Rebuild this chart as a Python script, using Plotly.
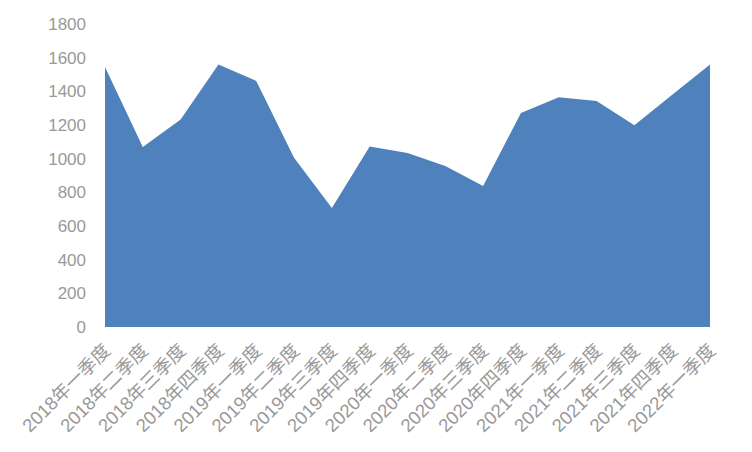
import plotly.graph_objects as go

categories = [
    "2018年一季度", "2018年二季度", "2018年三季度", "2018年四季度",
    "2019年一季度", "2019年二季度", "2019年三季度", "2019年四季度",
    "2020年一季度", "2020年二季度", "2020年三季度", "2020年四季度",
    "2021年一季度", "2021年二季度", "2021年三季度", "2021年四季度",
    "2022年一季度",
]
values = [1545, 1070, 1232, 1560, 1462, 1005, 707, 1073,
          1034, 957, 838, 1272, 1365, 1342, 1199, 1380, 1560]
y_ticks = [0, 200, 400, 600, 800, 1000, 1200, 1400, 1600, 1800]

font_family = "Liberation Sans, Noto Sans CJK SC, sans-serif"
label_color = "#999999"

fig = go.Figure()
fig.add_trace(go.Scatter(
    x=categories, y=values, mode="none", fill="tozeroy",
    fillcolor="#4F81BD", hoverinfo="x+y",
))

fig.update_layout(
    width=744, height=444,
    margin=dict(l=97, r=42, t=16, b=125),
    paper_bgcolor="white", plot_bgcolor="white",
    showlegend=False,
    font=dict(family=font_family, size=17, color=label_color),
    xaxis=dict(
        type="category", range=[0, len(categories) - 1],
        tickangle=-45, showgrid=False, zeroline=False, showline=False,
        ticks="", ticklabelstandoff=8, automargin=False,
        tickfont=dict(size=18.5, color=label_color),
    ),
    yaxis=dict(
        range=[0, 1800], tickvals=y_ticks, showgrid=False,
        zeroline=False, showline=False, ticks="",
        ticklabelstandoff=18, automargin=False,
        tickfont=dict(size=17, color=label_color),
    ),
)

fig.write_html("out.html")
